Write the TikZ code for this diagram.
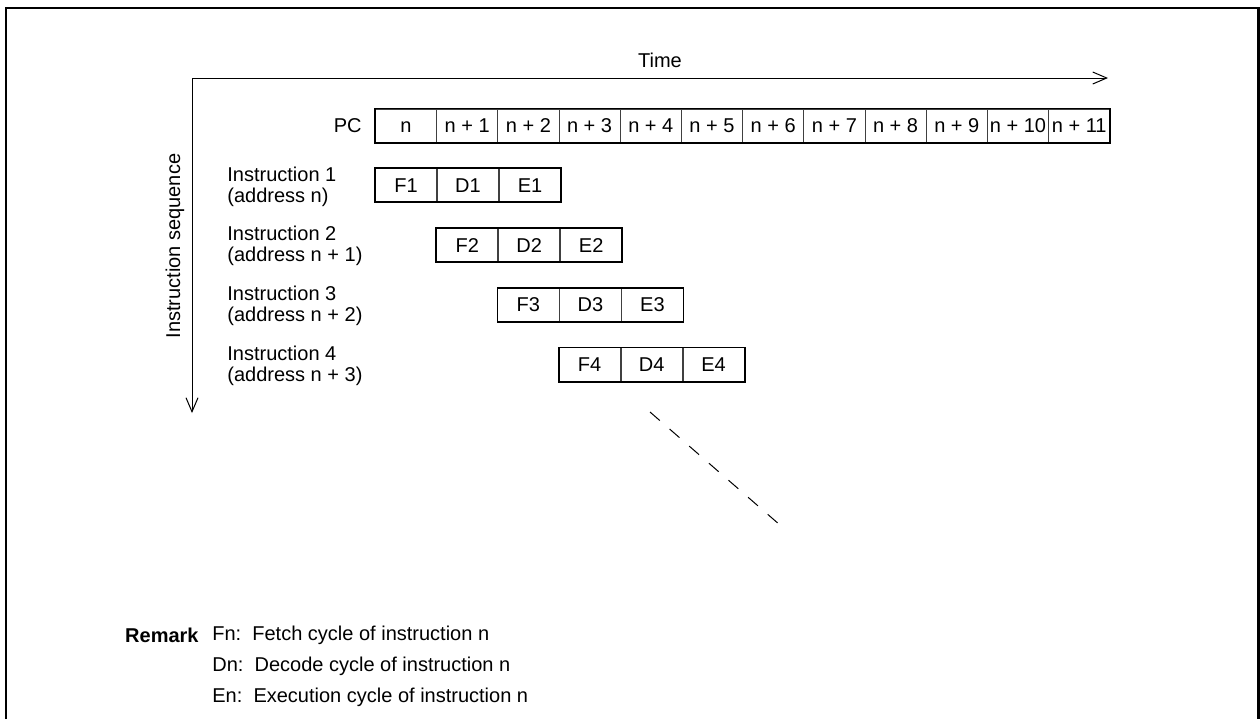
\documentclass[tikz,border=0pt]{standalone}
\usepackage{fontspec}
\setmainfont{Liberation Sans}
\usetikzlibrary{arrows.meta}
\begin{document}
\begin{tikzpicture}[x=0.5pt,y=-0.5pt,
  txt/.style={font=\fontsize{10}{10.5}\selectfont, inner sep=0pt},
  axis/.style={line width=0.5pt, -{Straight Barb[length=7pt,width=6pt,line width=0.5pt]}},
  cell/.style={draw=black!75, line width=0.4pt, minimum width=30.6pt, minimum height=16.7pt,
    inner sep=0pt, text height=7.2pt, text depth=0pt, anchor=north west,
    font=\fontsize{10}{10.5}\selectfont},
  outline/.style={line width=0.9pt},
  frame/.style={line width=1.2pt},
  remtxt/.style={txt, anchor=west}
]
\useasboundingbox (0,0) rectangle (1260,719);

% outer frame (open at the bottom)
\coordinate (fbl) at (6,719);
\coordinate (ftl) at (6,8);
\coordinate (ftr) at (1258.5,8);
\coordinate (fbr) at (1258.5,719);
\draw[frame] (fbl) -- (ftl) -- (ftr) -- (fbr);

% axes
\coordinate (o) at (192,78);
\coordinate (tend) at (1108,78);
\coordinate (send) at (192,413);
\draw[axis] (o) -- (tend);
\draw[axis] (o) -- (send);
\node[txt] (time) at (660,60) {Time};
\node[txt, rotate=90] (seq) at (175,246) {Instruction sequence};

% program counter row
\node[txt, anchor=east] (pc) at (362,126) {PC};
\foreach \i in {0,...,11}{
  \node[cell] (pc\i) at ({375+\i*61.2},108.5) {\ifnum\i=0 n\else n + \i\fi};
}
\draw[outline] (pc0.north west) rectangle (pc11.south east);

% pipeline stages of each instruction
\foreach \k in {1,...,4}{
  \pgfmathsetmacro{\xs}{375+(\k-1)*61.2}
  \pgfmathsetmacro{\ys}{168+(\k-1)*59.8}
  \pgfmathtruncatemacro{\off}{\k-1}
  \node[cell] (f\k) at (\xs,\ys) {F\k};
  \node[cell] (d\k) at (f\k.north east) {D\k};
  \node[cell] (e\k) at (d\k.north east) {E\k};
  \draw[outline] (f\k.north west) rectangle (e\k.south east);
  \node[txt, anchor=west, align=left] (lab\k) at (227,\ys+18.5)
    {Instruction \k\\(address n\ifnum\k>1\ + \off\fi)};
}

% continuation
\coordinate (da) at (650,412);
\coordinate (db) at (780,525);
\draw[line width=0.5pt, dash pattern=on 6.5pt off 6.5pt] (da) -- (db);

% remarks
\node[txt, anchor=east, font=\fontsize{10}{10.5}\selectfont\bfseries] (rem) at (199,635) {Remark};
\node[remtxt] (fn) at (212,635) {Fn:\ \ Fetch cycle of instruction n};
\node[remtxt] (dn) at (212,666) {Dn:\ \ Decode cycle of instruction n};
\node[remtxt] (en) at (212,697) {En:\ \ Execution cycle of instruction n};
\end{tikzpicture}
\end{document}
